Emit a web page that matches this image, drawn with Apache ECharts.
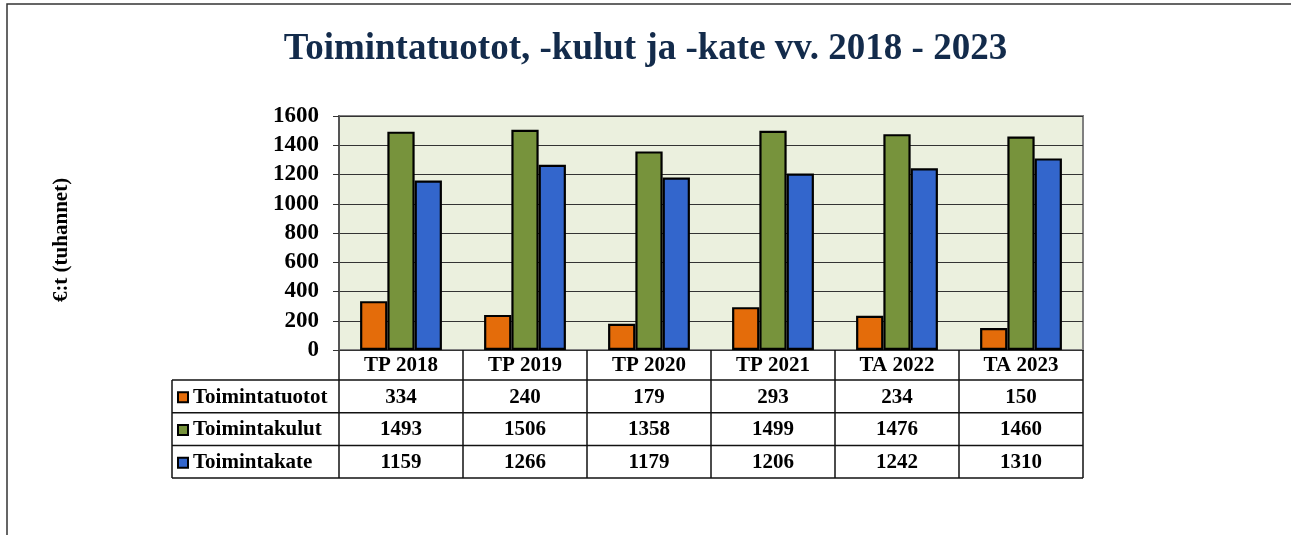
<!DOCTYPE html>
<html>
<head>
<meta charset="utf-8">
<script src="https://cdn.jsdelivr.net/npm/echarts@6/dist/echarts.min.js"></script>
<style>
  html, body { margin: 0; padding: 0; background: #fff; }
  #chart { width: 1291px; height: 535px; }
</style>
</head>
<body>
<div id="chart"></div>
<script>
  // chart data
  var categories = ['TP 2018', 'TP 2019', 'TP 2020', 'TP 2021', 'TA 2022', 'TA 2023'];
  var seriesNames = ['Toimintatuotot', 'Toimintakulut', 'Toimintakate'];
  var tuotot = [334, 240, 179, 293, 234, 150];
  var kulut = [1493, 1506, 1358, 1499, 1476, 1460];
  var kate = [1159, 1266, 1179, 1206, 1242, 1310];
  var colors = ['#e46c0a', '#77933c', '#3366cc'];

  var font = '"Liberation Serif", "Times New Roman", serif';
  var chart = echarts.init(document.getElementById('chart'));

  var barStyle = function (c) {
    return { color: c, borderColor: '#000', borderWidth: 2.2 };
  };

  chart.setOption({
    animation: false,
    title: {
      text: 'Toimintatuotot, -kulut ja -kate vv. 2018 - 2023',
      left: 'center',
      top: 26,
      textStyle: { fontFamily: font, fontSize: 37, fontWeight: 'bold', color: '#132b4b' }
    },
    grid: {
      left: 339, top: 116, right: 208, bottom: 185,
      show: true, backgroundColor: '#ebf0de', borderColor: '#808080', borderWidth: 2
    },
    xAxis: {
      type: 'category',
      data: categories,
      axisLine: { show: false },
      axisTick: { show: false },
      axisLabel: { show: false }
    },
    yAxis: {
      type: 'value',
      min: 0, max: 1600, interval: 200,
      axisLine: { show: true, lineStyle: { color: '#555', width: 2 } },
      axisTick: { show: true, length: 6, lineStyle: { color: '#333' } },
      axisLabel: { fontFamily: font, fontSize: 23, fontWeight: 'bold', color: '#000', margin: 20,
        formatter: function (v) { return String(v); } },
      splitLine: { lineStyle: { color: '#333', width: 1 } }
    },
    series: [
      { name: seriesNames[0], type: 'bar', data: tuotot, itemStyle: barStyle(colors[0]), barGap: '0%', barCategoryGap: '34%' },
      { name: seriesNames[1], type: 'bar', data: kulut, itemStyle: barStyle(colors[1]) },
      { name: seriesNames[2], type: 'bar', data: kate, itemStyle: barStyle(colors[2]) }
    ]
  });

  // data table under the plot, columns follow the category axis
  function drawTable() {
    var rows = [tuotot, kulut, kate];
    var c0 = chart.convertToPixel({ xAxisIndex: 0 }, categories[0]);
    var c1 = chart.convertToPixel({ xAxisIndex: 0 }, categories[1]);
    var band = c1 - c0;
    var plotLeft = c0 - band / 2;
    var plotRight = plotLeft + band * categories.length;
    var y0 = chart.convertToPixel({ yAxisIndex: 0 }, 0);
    var tableLeft = 172;
    var headH = 30, rowH = 32.7;
    var bottom = y0 + headH + rowH * rows.length;
    var lineStyle = { stroke: '#111', lineWidth: 1.5 };
    var cellFont = 'bold 21px ' + font;
    var els = [];

    // outer frame of the page
    els.push({ type: 'rect', shape: { x: 7, y: 4, width: 1400, height: 700 }, style: { fill: null, stroke: '#333', lineWidth: 1.5 }, silent: true });

    // y axis title
    els.push({ type: 'text', x: 62, y: 240, rotation: Math.PI / 2,
      style: { text: '€:t (tuhannet)', align: 'center', verticalAlign: 'middle', font: 'bold 21px ' + font, fill: '#000' } });

    // vertical lines
    for (var i = 0; i <= categories.length; i++) {
      var x = plotLeft + band * i;
      els.push({ type: 'line', shape: { x1: x, y1: y0, x2: x, y2: bottom }, style: lineStyle });
    }
    els.push({ type: 'line', shape: { x1: tableLeft, y1: y0 + headH, x2: tableLeft, y2: bottom }, style: lineStyle });

    // horizontal lines
    for (var r = 0; r <= rows.length; r++) {
      var y = y0 + headH + rowH * r;
      els.push({ type: 'line', shape: { x1: tableLeft, y1: y, x2: plotRight, y2: y }, style: lineStyle });
    }

    // header labels
    categories.forEach(function (c, i) {
      els.push({
        type: 'text',
        style: { text: c, x: plotLeft + band * (i + 0.5), y: y0 + headH / 2 + 1, align: 'center', verticalAlign: 'middle',
          font: cellFont, fill: '#000' }
      });
    });

    // rows
    rows.forEach(function (vals, r) {
      var yc = y0 + headH + rowH * (r + 0.5) + 1;
      els.push({ type: 'rect', shape: { x: tableLeft + 6, y: yc - 5, width: 10, height: 10 },
        style: { fill: colors[r], stroke: '#000', lineWidth: 2 } });
      els.push({ type: 'text', style: { text: seriesNames[r], x: tableLeft + 21, y: yc, align: 'left', verticalAlign: 'middle',
        font: cellFont, fill: '#000' } });
      vals.forEach(function (v, i) {
        els.push({ type: 'text', style: { text: String(v), x: plotLeft + band * (i + 0.5), y: yc, align: 'center', verticalAlign: 'middle',
          font: cellFont, fill: '#000' } });
      });
    });

    chart.setOption({ graphic: els });
  }
  drawTable();
</script>
</body>
</html>
